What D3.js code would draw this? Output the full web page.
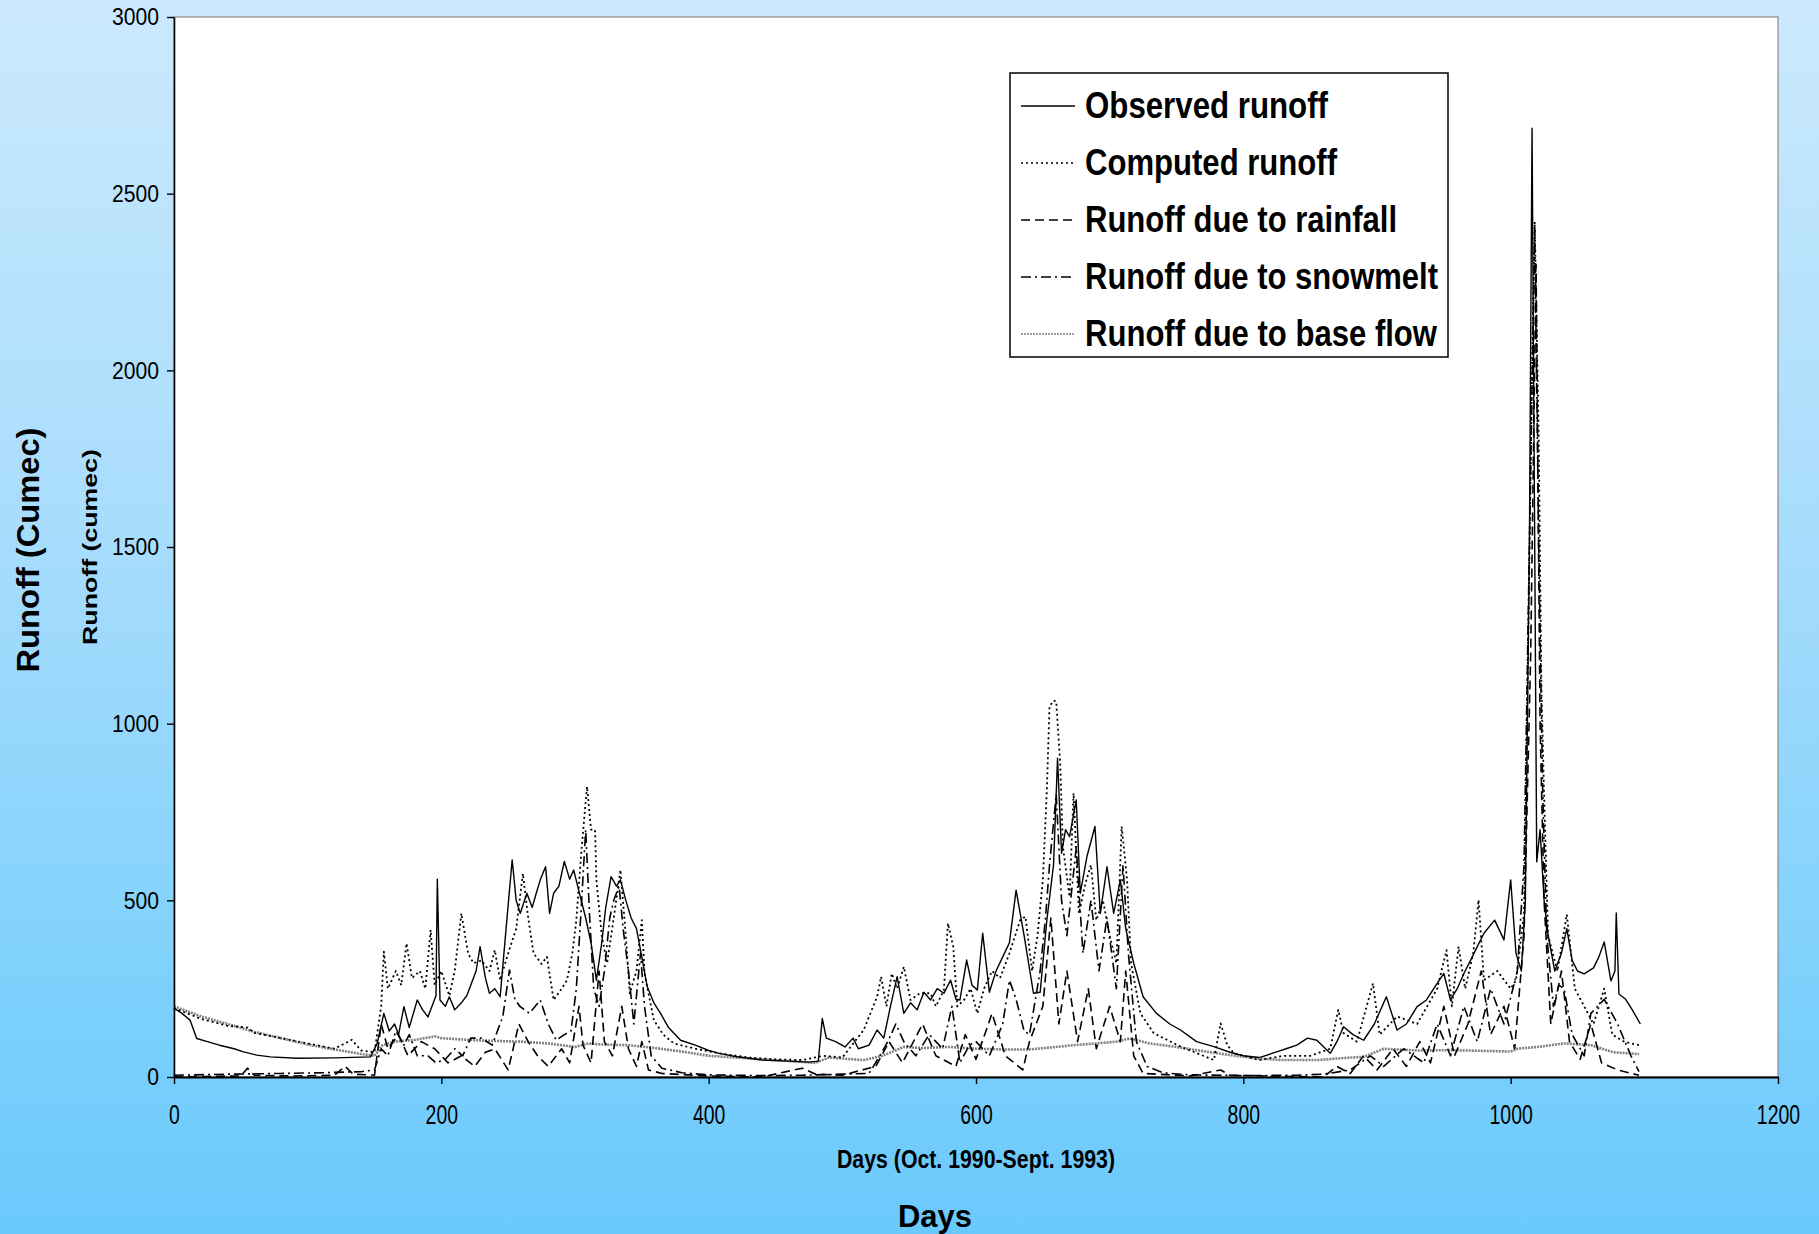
<!DOCTYPE html>
<html>
<head>
<meta charset="utf-8">
<title>Runoff</title>
<script src="https://cdnjs.cloudflare.com/ajax/libs/d3/7.8.5/d3.min.js"></script>
<style>
  html, body { margin: 0; padding: 0; }
  body { width: 1819px; height: 1234px; overflow: hidden; }
  text { font-family: "Liberation Sans", Arial, sans-serif; fill: #000; }
</style>
</head>
<body>
<svg class="js-render-chart" width="1819" height="1234"></svg>
<script>
"use strict";

//data: [day, runoff in cumec]

const observed = [
  [0, 195], [6, 180], [12, 161], [17, 109], [25, 100], [34, 90], [45, 80], [52, 71], [62, 62], [72, 57],
  [92, 53], [120, 54], [147, 57], [152, 95], [157, 180], [161, 130], [165, 150], [168, 120], [172, 199],
  [176, 140], [182, 218], [186, 190], [190, 170], [193, 200], [196, 230], [197, 560], [199, 218], [203, 200],
  [206, 227], [210, 190], [215, 210], [219, 230], [222, 260], [226, 300], [229, 369], [233, 280], [236, 237],
  [240, 250], [244, 227], [249, 444], [253, 614], [256, 500], [259, 463], [264, 520], [268, 480], [271, 520],
  [274, 558], [278, 595], [281, 463], [284, 520], [288, 540], [292, 610], [296, 560], [299, 586], [302, 540],
  [304, 510], [308, 450], [312, 380], [316, 274], [320, 380], [323, 480], [327, 567], [331, 540], [334, 558],
  [338, 500], [342, 450], [346, 420], [349, 360], [354, 256], [359, 210], [364, 180], [370, 140], [379, 104],
  [390, 90], [400, 75], [408, 67], [420, 58], [440, 48], [460, 45], [475, 42], [482, 45], [485, 166], [488, 110],
  [495, 100], [502, 85], [508, 110], [512, 80], [520, 90], [526, 133], [531, 110], [536, 200], [541, 284],
  [546, 180], [551, 210], [556, 190], [561, 240], [566, 218], [571, 250], [576, 237], [581, 274], [585, 220],
  [588, 218], [593, 331], [597, 260], [601, 246], [605, 407], [610, 240], [615, 300], [620, 340], [625, 380],
  [630, 529], [636, 400], [643, 237], [648, 240], [653, 444], [658, 600], [661, 902], [664, 633], [667, 700],
  [670, 680], [675, 784], [678, 520], [683, 624], [689, 709], [693, 463], [698, 595], [703, 463], [708, 558],
  [712, 420], [718, 322], [725, 227], [735, 180], [745, 150], [753, 133], [765, 100], [778, 86], [790, 70],
  [800, 60], [812, 55], [825, 71], [832, 80], [840, 90], [848, 110], [855, 104], [865, 67], [870, 100],
  [875, 142], [882, 120], [890, 104], [898, 150], [907, 227], [915, 133], [922, 150], [930, 199], [937, 218],
  [945, 265], [950, 293], [955, 218], [960, 250], [965, 293], [970, 330], [975, 369], [980, 407], [988, 444],
  [995, 388], [1000, 558], [1004, 350], [1008, 300], [1011, 500], [1014, 1500], [1016, 2685], [1018, 1500],
  [1019.5, 609], [1022, 700], [1025, 500], [1028, 402], [1033, 300], [1038, 350], [1042, 420], [1046, 330],
  [1050, 300], [1055, 292], [1062, 309], [1066, 340], [1070, 382], [1075, 272], [1078, 300], [1079, 464],
  [1081, 235], [1086, 220], [1091, 190], [1097, 150]
];

const computed = [
  [0, 195], [20, 165], [40, 145], [55, 140], [60, 125], [80, 110], [100, 95], [120, 80], [133, 105], [140, 75],
  [150, 70], [155, 200], [157, 355], [160, 250], [166, 300], [170, 260], [174, 378], [178, 280], [184, 300],
  [188, 250], [192, 416], [195, 260], [200, 300], [206, 230], [210, 300], [215, 463], [220, 350], [224, 322],
  [230, 330], [236, 300], [240, 359], [244, 274], [250, 350], [256, 420], [261, 576], [265, 450], [269, 350],
  [275, 320], [279, 340], [284, 218], [290, 250], [294, 274], [298, 350], [301, 444], [305, 650], [309, 822],
  [312, 700], [315, 699], [316, 558], [320, 400], [324, 322], [329, 450], [334, 586], [338, 400], [341, 237],
  [346, 300], [350, 444], [352, 293], [359, 161], [366, 120], [374, 95], [390, 80], [408, 67], [430, 55],
  [450, 50], [470, 48], [486, 60], [500, 55], [516, 133], [518, 152], [526, 227], [529, 284], [533, 200],
  [537, 293], [541, 250], [546, 312], [551, 218], [558, 237], [566, 237], [570, 200], [576, 246], [579, 435],
  [583, 369], [586, 200], [591, 218], [596, 250], [601, 180], [606, 250], [612, 300], [618, 280], [625, 350],
  [633, 444], [637, 454], [642, 300], [646, 400], [650, 558], [653, 812], [655, 1049], [658, 1065], [660, 1063],
  [663, 888], [665, 652], [670, 510], [673, 803], [677, 463], [682, 550], [686, 600], [690, 444], [695, 500],
  [700, 400], [705, 322], [709, 709], [713, 558], [716, 322], [723, 180], [733, 124], [753, 86], [778, 48],
  [783, 152], [788, 90], [793, 67], [812, 48], [830, 60], [850, 60], [865, 80], [871, 190], [875, 124],
  [885, 100], [897, 265], [902, 120], [915, 171], [930, 150], [945, 250], [952, 359], [956, 200], [961, 369],
  [966, 250], [972, 350], [976, 501], [980, 274], [990, 300], [1000, 250], [1004, 274], [1010, 463],
  [1013, 1200], [1016, 2000], [1018, 2420], [1021, 1800], [1023, 1100], [1025, 800], [1028, 400], [1035, 300],
  [1042, 460], [1048, 250], [1055, 200], [1062, 150], [1070, 250], [1076, 120], [1085, 100], [1096, 90]
];

const rainfall = [
  [0, 0], [30, 2], [50, 3], [55, 25], [60, 5], [90, 3], [120, 5], [128, 30], [134, 8], [150, 5], [155, 150],
  [160, 80], [168, 120], [175, 60], [185, 100], [195, 80], [205, 40], [215, 60], [225, 30], [233, 70],
  [240, 80], [250, 20], [258, 150], [265, 100], [272, 60], [280, 30], [290, 80], [296, 40], [303, 200],
  [306, 90], [312, 40], [318, 300], [322, 100], [328, 60], [335, 200], [340, 80], [346, 30], [350, 100],
  [355, 20], [365, 10], [400, 3], [440, 0], [470, 25], [480, 8], [500, 5], [525, 30], [535, 100], [545, 40],
  [560, 150], [570, 60], [585, 30], [592, 120], [600, 50], [612, 180], [622, 60], [635, 20], [640, 100],
  [650, 200], [656, 450], [662, 150], [668, 300], [676, 100], [684, 250], [690, 80], [700, 200], [708, 100],
  [712, 300], [718, 60], [725, 10], [760, 3], [783, 20], [790, 5], [830, 2], [860, 0], [870, 30], [880, 10],
  [890, 60], [900, 20], [912, 80], [922, 30], [932, 100], [940, 40], [950, 200], [958, 60], [968, 150],
  [978, 300], [985, 120], [995, 200], [1003, 80], [1010, 400], [1015, 1200], [1019, 2300], [1022, 1000],
  [1025, 500], [1030, 150], [1038, 300], [1044, 100], [1052, 50], [1060, 150], [1068, 40], [1080, 20], [1096, 5]
];

const snowmelt = [
  [0, 5], [40, 8], [80, 10], [110, 12], [140, 15], [150, 20], [155, 80], [160, 60], [166, 130], [172, 90],
  [176, 120], [182, 60], [190, 60], [196, 40], [203, 50], [210, 80], [216, 60], [222, 110], [230, 110],
  [238, 90], [246, 171], [251, 303], [255, 220], [259, 199], [266, 180], [274, 218], [280, 150], [286, 104],
  [292, 120], [297, 130], [301, 250], [305, 500], [308, 700], [311, 450], [314, 250], [318, 200], [322, 300],
  [326, 450], [329, 500], [333, 540], [336, 420], [340, 300], [344, 150], [349, 350], [352, 200], [357, 60],
  [365, 25], [380, 12], [400, 6], [440, 4], [470, 5], [500, 8], [520, 10], [528, 60], [534, 100], [540, 150],
  [546, 100], [555, 60], [565, 120], [575, 80], [582, 200], [588, 40], [595, 90], [600, 100], [610, 60],
  [620, 150], [625, 274], [630, 220], [636, 130], [640, 120], [648, 300], [652, 450], [655, 600], [660, 800],
  [664, 500], [668, 400], [675, 650], [680, 350], [686, 500], [692, 300], [698, 450], [705, 250], [710, 600],
  [714, 350], [720, 100], [728, 30], [740, 12], [760, 6], [800, 4], [840, 5], [860, 8], [880, 20], [895, 60],
  [905, 30], [920, 80], [935, 40], [945, 150], [955, 60], [965, 200], [975, 100], [985, 250], [995, 150],
  [1005, 300], [1010, 600], [1014, 1500], [1018, 2400], [1021, 1500], [1024, 800], [1027, 400], [1032, 200],
  [1036, 260], [1040, 250], [1046, 120], [1055, 60], [1060, 180], [1070, 220], [1080, 150], [1090, 60], [1096, 15]
];

const baseFlow = [
  [0, 200], [20, 172], [40, 150], [60, 128], [80, 110], [100, 92], [120, 78], [140, 65], [150, 60], [156, 90],
  [165, 100], [180, 105], [195, 115], [200, 110], [220, 105], [240, 102], [260, 100], [280, 95], [300, 85],
  [310, 95], [320, 92], [340, 90], [360, 82], [380, 72], [400, 60], [420, 55], [440, 50], [460, 45], [480, 40],
  [490, 55], [516, 48], [530, 60], [546, 85], [560, 82], [580, 85], [600, 80], [620, 78], [640, 78], [660, 85],
  [673, 90], [690, 95], [705, 100], [715, 109], [730, 95], [750, 85], [765, 76], [790, 62], [812, 52],
  [830, 48], [855, 48], [880, 55], [890, 57], [905, 80], [930, 75], [955, 76], [980, 74], [1000, 72],
  [1005, 80], [1020, 85], [1040, 95], [1060, 90], [1077, 70], [1096, 65]
];

const xTicks = [0, 200, 400, 600, 800, 1000, 1200];
const yTicks = [0, 500, 1000, 1500, 2000, 2500, 3000];

const legendLabels = [
  "Observed runoff",
  "Computed runoff",
  "Runoff due to rainfall",
  "Runoff due to snowmelt",
  "Runoff due to base flow"
];

//series styles, same order as the legend

const seriesStyles = [
  { data: observed, stroke: "#000", width: 1.4, dash: null },
  { data: computed, stroke: "#000", width: 1.8, dash: "2,3" },
  { data: rainfall, stroke: "#000", width: 1.6, dash: "9,5" },
  { data: snowmelt, stroke: "#000", width: 1.6, dash: "10,4,2,4" },
  { data: baseFlow, stroke: "#808080", width: 2.6, dash: "2,1" }
];

//helpers

// squeeze text to a width, the source uses narrow type
function fitWidth(sel, w) {
  sel.attr("textLength", w).attr("lengthAdjust", "spacingAndGlyphs");
}

function scaleWidth(sel, k) {
  sel.each(function () {
    const n = this.getComputedTextLength();
    d3.select(this).attr("textLength", n * k).attr("lengthAdjust", "spacingAndGlyphs");
  });
}

//chart

const chart = {

  w: 1819,
  h: 1234,
  left: 174,
  top: 17,
  right: 1778,
  bottom: 1077,

  svg: d3.select(".js-render-chart"),

  background() {

    const grad = this.svg.append("defs")
      .append("linearGradient")
      .attr("id", "bg")
      .attr("x1", 0).attr("y1", 0).attr("x2", 0).attr("y2", 1);

    grad.append("stop").attr("offset", "0").attr("stop-color", "#cbe9fd");
    grad.append("stop").attr("offset", "0.45").attr("stop-color", "#a6dcfc");
    grad.append("stop").attr("offset", "0.8").attr("stop-color", "#7ed1fc");
    grad.append("stop").attr("offset", "1").attr("stop-color", "#6ac9fc");

    this.svg.append("rect")
      .attr("width", this.w)
      .attr("height", this.h)
      .attr("fill", "url(#bg)");

    this.svg.append("rect")
      .attr("x", this.left)
      .attr("y", this.top)
      .attr("width", this.right - this.left)
      .attr("height", this.bottom - this.top)
      .attr("fill", "#fff")
      .attr("stroke", "#8a8a8a")
      .attr("stroke-width", 1.2);

  },

  scales() {

    this.x = d3.scaleLinear().domain([0, 1200]).range([this.left, this.right]);
    this.y = d3.scaleLinear().domain([0, 3000]).range([this.bottom, this.top]);

  },

  lines() {

    const line = d3.line()
      .x((d) => this.x(d[0]))
      .y((d) => this.y(d[1]));

    // base flow sits underneath the rest
    const order = [4, 3, 2, 1, 0];

    this.svg.append("g")
      .selectAll("path")
      .data(order.map((i) => seriesStyles[i]))
      .enter()
      .append("path")
      .attr("d", (s) => line(s.data))
      .attr("fill", "none")
      .attr("stroke", (s) => s.stroke)
      .attr("stroke-width", (s) => s.width)
      .attr("stroke-dasharray", (s) => s.dash)
      .attr("stroke-linejoin", "round");

  },

  axes() {

    const fmt = d3.format("d");

    const yAxis = this.svg.append("g")
      .attr("transform", `translate(${this.left},0)`)
      .call(d3.axisLeft(this.y).tickValues(yTicks).tickFormat(fmt)
        .tickSize(7).tickPadding(8).tickSizeOuter(0));

    yAxis.select(".domain").attr("stroke", "#000").attr("stroke-width", 1.6);
    yAxis.selectAll(".tick line").attr("stroke", "#000").attr("stroke-width", 1.4);
    yAxis.selectAll("text")
      .attr("font-size", 24)
      .attr("font-family", "Liberation Sans, Arial, sans-serif")
      .attr("fill", "#000")
      .call(scaleWidth, 0.88);

    const xAxis = this.svg.append("g")
      .attr("transform", `translate(0,${this.bottom})`)
      .call(d3.axisBottom(this.x).tickValues(xTicks).tickFormat(fmt)
        .tickSize(7).tickPadding(21).tickSizeOuter(0));

    xAxis.select(".domain").attr("stroke", "#000").attr("stroke-width", 2);
    xAxis.selectAll(".tick line").attr("stroke", "#000").attr("stroke-width", 1.4);
    xAxis.selectAll("text")
      .attr("font-size", 27)
      .attr("font-family", "Liberation Sans, Arial, sans-serif")
      .attr("fill", "#000")
      .call(scaleWidth, 0.72);

  },

  titles() {

    this.svg.append("text")
      .attr("x", 976)
      .attr("y", 1168)
      .attr("text-anchor", "middle")
      .attr("font-size", 25)
      .attr("font-weight", "bold")
      .text("Days (Oct. 1990-Sept. 1993)")
      .call(fitWidth, 278);

    this.svg.append("text")
      .attr("x", 935)
      .attr("y", 1227)
      .attr("text-anchor", "middle")
      .attr("font-size", 32)
      .attr("font-weight", "bold")
      .text("Days")
      .call(fitWidth, 74);

    this.svg.append("text")
      .attr("transform", "translate(39,550) rotate(-90)")
      .attr("text-anchor", "middle")
      .attr("font-size", 31)
      .attr("font-weight", "bold")
      .text("Runoff  (Cumec)")
      .call(fitWidth, 245);

    this.svg.append("text")
      .attr("transform", "translate(97,547) rotate(-90)")
      .attr("text-anchor", "middle")
      .attr("font-size", 20)
      .attr("font-weight", "bold")
      .text("Runoff (cumec)")
      .call(fitWidth, 196);

  },

  legend() {

    const box = { x: 1010, y: 73, w: 438, h: 284 };
    const widths = [243, 252, 312, 353, 352];

    const g = this.svg.append("g");

    g.append("rect")
      .attr("x", box.x)
      .attr("y", box.y)
      .attr("width", box.w)
      .attr("height", box.h)
      .attr("fill", "#fff")
      .attr("stroke", "#000")
      .attr("stroke-width", 1.5);

    const row = g.selectAll(".row")
      .data(legendLabels)
      .enter()
      .append("g")
      .attr("transform", (d, i) => `translate(0,${118 + i * 57})`);

    row.append("line")
      .attr("x1", 1021)
      .attr("x2", 1075)
      .attr("y1", -12)
      .attr("y2", -12)
      .attr("stroke", (d, i) => seriesStyles[i].stroke)
      .attr("stroke-width", (d, i) => Math.min(seriesStyles[i].width, 1.6))
      .attr("stroke-dasharray", (d, i) => seriesStyles[i].dash);

    row.append("text")
      .attr("x", 1085)
      .attr("y", 0)
      .attr("font-size", 36)
      .attr("font-weight", "bold")
      .text((d) => d)
      .each(function (d, i) {
        d3.select(this).call(fitWidth, widths[i]);
      });

  }

};

//draw

chart.background();
chart.scales();
chart.lines();
chart.axes();
chart.titles();
chart.legend();

</script>
</body>
</html>
